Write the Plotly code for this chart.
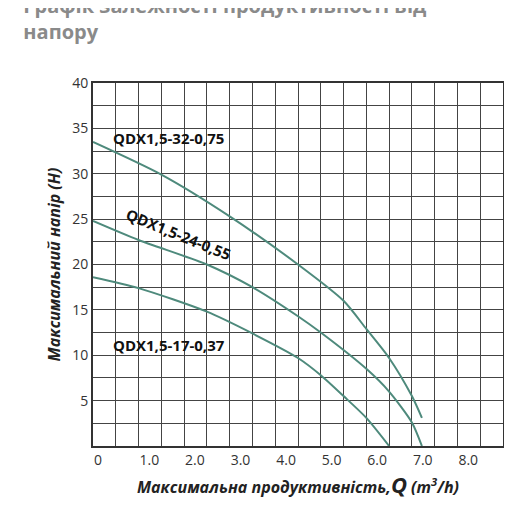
import plotly.graph_objects as go

q_top = [0, 1.5, 3, 4.5, 5.5, 6, 6.5, 7, 7.22]
h_top = [33.5, 29.9, 25.3, 20, 16, 12.9, 9.7, 5.5, 3.1]
q_mid = [0, 1, 2.5, 3.5, 4.5, 5, 6, 6.5, 7, 7.22]
h_mid = [24.8, 22.7, 20, 17.5, 14.3, 12.5, 8.5, 6.0, 2.6, 0]
q_bot = [0, 1, 2.5, 3.5, 4.5, 5, 5.5, 6, 6.5]
h_bot = [18.6, 17.4, 14.8, 12.4, 9.7, 7.8, 5.5, 3.1, 0]
names = ["QDX1,5-32-0,75", "QDX1,5-24-0,55", "QDX1,5-17-0,37"]

xt = [i * 0.5 for i in range(19)]
xtt = ["0" if v == 0 else (f"{v:.1f}" if v == int(v) and v <= 8 else "") for v in xt]
yt = [i * 2.5 for i in range(17)]
ytt = [str(int(v)) if v == int(v) and v > 0 else "" for v in yt]

col = "#4e8a7c"
fig = go.Figure()
for q, h in [(q_top, h_top), (q_mid, h_mid), (q_bot, h_bot)]:
    fig.add_trace(go.Scatter(x=q, y=h, mode="lines",
                             line=dict(color=col, width=2, shape="spline", smoothing=0.7), showlegend=False))

f = dict(family="Open Sans", size=15, color="#111")
fig.add_annotation(x=0.4, y=33.9, text=f"<b>{names[0]}</b>", showarrow=False, xanchor="left", font=f)
fig.add_annotation(x=1.87, y=23.4, text=f"<b>{names[1]}</b>", showarrow=False, textangle=22, font=f)
fig.add_annotation(x=0.4, y=11.1, text=f"<b>{names[2]}</b>", showarrow=False, xanchor="left", font=f)

ax = dict(showgrid=True, gridcolor="#444", gridwidth=1.2, showline=True, linecolor="#333", linewidth=2,
          mirror=True, zeroline=False, ticks="", automargin=False,
          tickfont=dict(family="Open Sans", size=14, color="#333"))
fig.update_xaxes(**ax, range=[0, 9], tickvals=xt, ticktext=xtt, ticklabelposition="outside right",
                 title=dict(text="<b><i>Максимальна продуктивність,</i></b><b><i><span style='font-size:22px'>Q</span> (m<sup>3</sup>/h)</i></b>",
                            font=dict(family="Open Sans", size=16, color="#222"), standoff=10))
fig.update_yaxes(**ax, range=[0, 40], tickvals=yt, ticktext=ytt,
                 title=dict(text="<b><i>Максимальний напір (H)</i></b>", font=dict(family="Open Sans", size=16, color="#222"), standoff=8))
fig.update_layout(
    width=512, height=507, margin=dict(l=85, r=17, t=75, b=69),
    plot_bgcolor="white", paper_bgcolor="white",
    title=dict(text="<b>Графік залежності продуктивності від<br>напору</b>", x=0.03, xanchor="left",
               yref="container", y=0.99, yanchor="top",
               font=dict(family="Open Sans", size=20, color="#8a8a8a")),
)
fig.write_html("out.html")
